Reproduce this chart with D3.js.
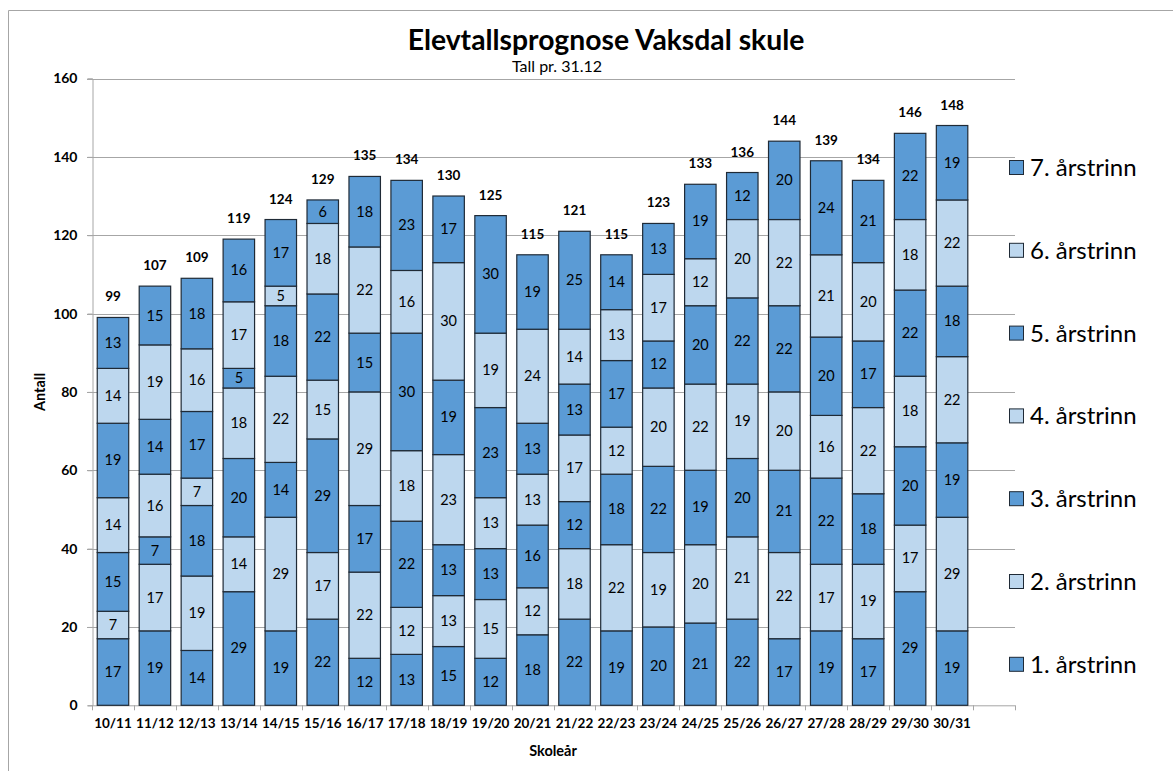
<!DOCTYPE html>
<html>
<head>
<meta charset="utf-8">
<script src="https://cdn.jsdelivr.net/npm/d3@7"></script>
<style>
    body { margin: 0; background: #fff; }
    svg { font-family: Lato, "Open Sans", sans-serif; display: block; }
</style>
</head>
<body>
<div id="chart"></div>
<script>
// Skoleår (categories)
const years = ['10/11', '11/12', '12/13', '13/14', '14/15', '15/16', '16/17', '17/18', '18/19', '19/20', '20/21',
    '21/22', '22/23', '23/24', '24/25', '25/26', '26/27', '27/28', '28/29', '29/30', '30/31'];

const seriesNames = ['1. årstrinn', '2. årstrinn', '3. årstrinn', '4. årstrinn', '5. årstrinn', '6. årstrinn', '7. årstrinn'];

// values per årstrinn, one per skoleår
const trinn1 = [17, 19, 14, 29, 19, 22, 12, 13, 15, 12, 18, 22, 19, 20, 21, 22, 17, 19, 17, 29, 19];
const trinn2 = [7, 17, 19, 14, 29, 17, 22, 12, 13, 15, 12, 18, 22, 19, 20, 21, 22, 17, 19, 17, 29];
const trinn3 = [15, 7, 18, 20, 14, 29, 17, 22, 13, 13, 16, 12, 18, 22, 19, 20, 21, 22, 18, 20, 19];
const trinn4 = [14, 16, 7, 18, 22, 15, 29, 18, 23, 13, 13, 17, 12, 20, 22, 19, 20, 16, 22, 18, 22];
const trinn5 = [19, 14, 17, 5, 18, 22, 15, 30, 19, 23, 13, 13, 17, 12, 20, 22, 22, 20, 17, 22, 18];
const trinn6 = [14, 19, 16, 17, 5, 18, 22, 16, 30, 19, 24, 14, 13, 17, 12, 20, 22, 21, 20, 18, 22];
const trinn7 = [13, 15, 18, 16, 17, 6, 18, 23, 17, 30, 19, 25, 14, 13, 19, 12, 20, 24, 21, 22, 19];

const yTicks = [0, 20, 40, 60, 80, 100, 120, 140, 160];

const allSeries = [trinn1, trinn2, trinn3, trinn4, trinn5, trinn6, trinn7];
const dark = '#5b9bd5', light = '#bdd7ee';
const colors = [dark, light, dark, light, dark, light, dark];

const width = 1173, height = 771;
const svg = d3.select('#chart').append('svg')
    .attr('width', width)
    .attr('height', height);

// chart area frame (cut off right/bottom like the screenshot)
svg.append('path')
    .attr('d', `M8.5,${height} V10.5 H${width}`)
    .attr('fill', 'none')
    .attr('stroke', '#a6a6a6');

const plot = { left: 92, right: 1015, top: 78.5, bottom: 705.3 };

// one empty slot after the last year, as in the original
const x = d3.scaleBand()
    .domain(years.concat(['']))
    .range([plot.left, plot.right])
    .paddingInner(0.25)
    .paddingOuter(0.125);

const y = d3.scaleLinear()
    .domain([0, 160])
    .range([plot.bottom, plot.top]);

// gridlines
svg.append('g')
    .selectAll('line')
    .data(yTicks.slice(1))
    .join('line')
    .attr('x1', plot.left - 5)
    .attr('x2', plot.right)
    .attr('y1', d => Math.round(y(d)) + 0.5)
    .attr('y2', d => Math.round(y(d)) + 0.5)
    .attr('stroke', '#a6a6a6');

// y axis
const yAxis = svg.append('g')
    .attr('transform', `translate(${plot.left + 0.5},0)`)
    .call(d3.axisLeft(y).tickValues(yTicks).tickSize(5).tickPadding(10));
yAxis.select('.domain').attr('stroke', '#a6a6a6');
yAxis.selectAll('.tick line').attr('stroke', '#a6a6a6');
yAxis.selectAll('text')
    .attr('font-family', 'Lato, sans-serif')
    .attr('font-size', 14)
    .attr('font-weight', 'bold')
    .attr('fill', '#000');

// x axis: line, boundary ticks, labels
const xAxis = svg.append('g');
xAxis.append('line')
    .attr('x1', plot.left).attr('x2', plot.right)
    .attr('y1', plot.bottom + 0.5).attr('y2', plot.bottom + 0.5)
    .attr('stroke', '#a6a6a6');
const bounds = d3.range(x.domain().length + 1).map(i => plot.left + i * x.step());
xAxis.selectAll('line.tk')
    .data(bounds)
    .join('line')
    .attr('class', 'tk')
    .attr('x1', d => Math.round(d) + 0.5)
    .attr('x2', d => Math.round(d) + 0.5)
    .attr('y1', plot.bottom)
    .attr('y2', plot.bottom + 5)
    .attr('stroke', '#a6a6a6');
xAxis.selectAll('text')
    .data(years)
    .join('text')
    .attr('x', d => x(d) + x.bandwidth() / 2)
    .attr('y', 728)
    .attr('text-anchor', 'middle')
    .attr('font-size', 13.5)
    .attr('font-weight', 'bold')
    .text(d => d);

// stacked bars
const table = years.map((yr, i) => {
    const row = { year: yr };
    allSeries.forEach((s, k) => { row[k] = s[i]; });
    return row;
});
const stack = d3.stack().keys(d3.range(allSeries.length))(table);

const layers = svg.append('g')
    .selectAll('g')
    .data(stack)
    .join('g')
    .attr('fill', (d, k) => colors[k]);

layers.selectAll('rect')
    .data(d => d)
    .join('rect')
    .attr('x', d => x(d.data.year))
    .attr('width', x.bandwidth())
    .attr('y', d => y(d[1]))
    .attr('height', d => y(d[0]) - y(d[1]))
    .attr('stroke', '#1f2a36')
    .attr('stroke-width', 1.2);

layers.selectAll('text')
    .data(d => d)
    .join('text')
    .attr('x', d => x(d.data.year) + x.bandwidth() / 2)
    .attr('y', d => (y(d[0]) + y(d[1])) / 2 + 5)
    .attr('text-anchor', 'middle')
    .attr('font-size', 14.5)
    .attr('fill', '#000')
    .text(d => d[1] - d[0]);

// totals above bars
const totals = years.map((yr, i) => d3.sum(allSeries, s => s[i]));
svg.append('g')
    .selectAll('text')
    .data(years)
    .join('text')
    .attr('x', d => x(d) + x.bandwidth() / 2)
    .attr('y', (d, i) => y(totals[i]) - 16)
    .attr('text-anchor', 'middle')
    .attr('font-size', 13.5)
    .attr('font-weight', 'bold')
    .text((d, i) => totals[i]);

// legend, 7. årstrinn on top
const legend = svg.append('g')
    .selectAll('g')
    .data(d3.range(seriesNames.length).reverse())
    .join('g')
    .attr('transform', (k, i) => `translate(1009, ${168 + i * 82.8})`);
legend.append('rect')
    .attr('x', 0.5).attr('y', -7.5)
    .attr('width', 14).attr('height', 14)
    .attr('fill', k => colors[k])
    .attr('stroke', '#1f2a36');
legend.append('text')
    .attr('x', 21)
    .attr('y', 8)
    .attr('font-size', 24)
    .text(k => seriesNames[k]);

// titles
svg.append('text')
    .attr('x', 606).attr('y', 50)
    .attr('text-anchor', 'middle')
    .attr('font-size', 28.3)
    .attr('font-weight', 'bold')
    .text('Elevtallsprognose Vaksdal skule');
svg.append('text')
    .attr('x', 557).attr('y', 72)
    .attr('text-anchor', 'middle')
    .attr('font-size', 16)
    .text('Tall pr. 31.12');

svg.append('text')
    .attr('transform', 'translate(45, 392) rotate(-90)')
    .attr('text-anchor', 'middle')
    .attr('font-size', 14.5)
    .attr('font-weight', 'bold')
    .text('Antall');
svg.append('text')
    .attr('x', 553).attr('y', 756)
    .attr('text-anchor', 'middle')
    .attr('font-size', 14.5)
    .attr('font-weight', 'bold')
    .text('Skoleår');
</script>
</body>
</html>
